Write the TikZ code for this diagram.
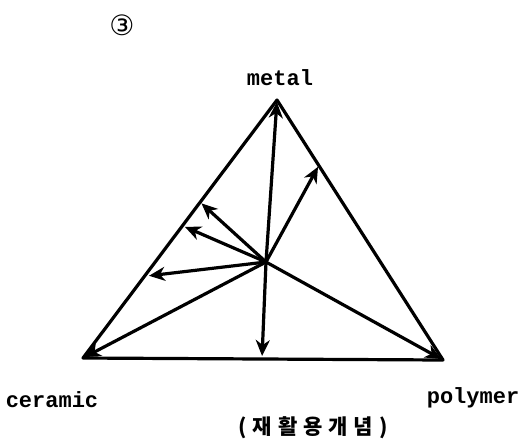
\documentclass[tikz,border=0pt]{standalone}
\usepackage{fontspec}
\setmonofont{Liberation Mono}
\newfontfamily\hangulfont{Noto Sans CJK KR}
\newfontfamily\symbfont{DejaVu Sans}
\usetikzlibrary{arrows.meta}

\begin{document}
\begin{tikzpicture}[
  x=0.5pt, y=-0.5pt,
  corner/.style={
    font=\ttfamily\bfseries\fontsize{11}{13}\selectfont,
    text=black,
    inner sep=0pt
  },
  caption/.style={
    font=\hangulfont\bfseries\fontsize{10.5}{12}\selectfont,
    text=black,
    inner sep=0pt
  },
  side/.style={
    line width=1.6pt,
    draw=black,
    line join=round
  },
  ray/.style={
    -{Stealth[length=8pt, width=7pt, inset=2.5pt]},
    line width=1.6pt,
    draw=black,
    shorten >=1pt
  }
]
\useasboundingbox (0,0) rectangle (523,446);

% Sommets
\coordinate (met) at (277,100);
\coordinate (cer) at (83,358);
\coordinate (pol) at (443,360);

% Triangle
\draw[side] (met) -- (pol) -- (cer) -- cycle;

% Point central
\coordinate (ctr) at (266,262);

% Points d'arrivee sur les cotes
\coordinate (pr1) at (319,165);
\coordinate (pl1) at (200,202);
\coordinate (pl2) at (183,226);
\coordinate (pl3) at (147,276);
\coordinate (pb1) at (262,358);

% Fleches
\draw[ray] (ctr) -- (met);
\draw[ray] (ctr) -- (pr1);
\draw[ray] (ctr) -- (pl1);
\draw[ray] (ctr) -- (pl2);
\draw[ray] (ctr) -- (pl3);
\draw[ray] (ctr) -- (cer);
\draw[ray] (ctr) -- (pb1);
\draw[ray] (ctr) -- (pol);

% Textes
\node[corner] (tmet) at (280,78) {metal};
\node[corner] (tcer) at (52,400) {ceramic};
\node[corner] (tpol) at (473,398) {polymer};
\node[caption] (tcap) at (313,428)
  {(\kern3pt 재\kern3pt 활\kern3pt 용\kern3pt 개\kern3pt 념\kern3pt)};
\node[font=\symbfont\fontsize{14}{16}\selectfont, inner sep=0pt] (num) at (122,25) {③};

\end{tikzpicture}
\end{document}
